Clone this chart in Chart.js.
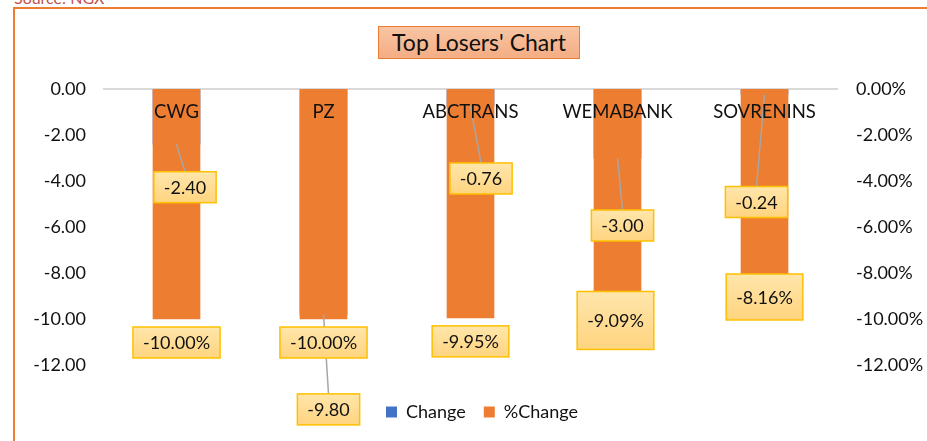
<!DOCTYPE html>
<html>
<head>
<meta charset="utf-8">
<script src="https://cdn.jsdelivr.net/npm/chart.js@4.4.1/dist/chart.umd.min.js"></script>
<style>
  html, body { margin: 0; padding: 0; background: #fff; overflow: hidden; }
  body { width: 927px; height: 441px; position: relative; font-family: Lato, sans-serif; }
  #frame { position: absolute; left: 13px; top: 7px; width: 1000px; height: 1000px; border: 2px solid #ed7d31; }
  #source { position: absolute; left: 14px; top: -12px; font-size: 16px; color: #c0504d; }
  #losersChart { position: absolute; left: 0; top: 0; }
  #title {
    position: absolute; left: 378px; top: 26px; width: 202px; height: 33px;
    box-sizing: border-box; border: 1px solid #ed7d31;
    background: linear-gradient(#f8c5a4, #f4ad84);
    font-size: 23px; line-height: 31px; text-align: center; color: #111;
  }
</style>
</head>
<body>
<div id="frame"></div>
<div id="source">Source: NGX</div>
<canvas id="losersChart" width="927" height="441"></canvas>
<div id="title">Top Losers' Chart</div>
<script>
const stocks = ["CWG", "PZ", "ABCTRANS", "WEMABANK", "SOVRENINS"];
const change = [-2.40, -9.80, -0.76, -3.00, -0.24];
const pctChange = [-10.00, -10.00, -9.95, -9.09, -8.16];

// where Excel left the data labels (px offset from the bar end)
const changeLabelShift = [[8.5, 43], [5, 95], [10.5, 72], [5, 67.5], [-8, 107.5]];
const pctLabelShift = [[0, 23.5], [0, 23.5], [0, 23.5], [-2, 22.4], [0, 20.3]];
const pctLabelHeight = [31, 31, 31, 58, 46];

Chart.defaults.font.family = "Lato";
Chart.defaults.font.size = 18;
Chart.defaults.color = "#111";

function drawBox(ctx, text, cx, cy, h) {
  const w = ctx.measureText(text).width + 20;
  const g = ctx.createLinearGradient(0, cy - h / 2, 0, cy + h / 2);
  g.addColorStop(0, "#ffe6ab");
  g.addColorStop(1, "#ffd47f");
  ctx.fillStyle = g;
  ctx.fillRect(cx - w / 2, cy - h / 2, w, h);
  ctx.strokeStyle = "#ffc000";
  ctx.lineWidth = 1.5;
  ctx.strokeRect(cx - w / 2, cy - h / 2, w, h);
  ctx.fillStyle = "#111";
  ctx.fillText(text, cx, cy + 1);
}

const labelPlugin = {
  id: "valueLabels",
  afterDatasetsDraw(chart) {
    const ctx = chart.ctx;
    const x = chart.scales.x;
    const yL = chart.scales.y;
    const yR = chart.scales.y2;
    ctx.save();
    ctx.font = "18px Lato";
    ctx.textAlign = "center";
    ctx.textBaseline = "middle";

    // leader lines
    ctx.strokeStyle = "#a6a6a6";
    ctx.lineWidth = 1.5;
    change.forEach((v, i) => {
      const bx = x.getPixelForValue(i);
      const by = yL.getPixelForValue(v);
      const [dx, dy] = changeLabelShift[i];
      ctx.beginPath();
      ctx.moveTo(bx, by);
      ctx.lineTo(bx + dx, by + dy - 15.5);
      ctx.stroke();
    });

    // category names just under the zero line
    ctx.fillStyle = "#111";
    ctx.font = "18.5px Lato";
    stocks.forEach((s, i) => {
      ctx.fillText(s, x.getPixelForValue(i), chart.chartArea.top + 23);
    });
    ctx.font = "18px Lato";

    pctChange.forEach((v, i) => {
      const [dx, dy] = pctLabelShift[i];
      drawBox(ctx, v.toFixed(2) + "%", x.getPixelForValue(i) + dx, yR.getPixelForValue(v) + dy, pctLabelHeight[i]);
    });

    change.forEach((v, i) => {
      const [dx, dy] = changeLabelShift[i];
      drawBox(ctx, v.toFixed(2), x.getPixelForValue(i) + dx, yL.getPixelForValue(v) + dy, 31);
    });
    ctx.restore();
  },
};

const chart = new Chart(document.getElementById("losersChart"), {
  type: "bar",
  data: {
    labels: stocks,
    datasets: [
      {
        label: "Change",
        data: change,
        backgroundColor: "#4472c4",
        yAxisID: "y",
        order: 2,
        grouped: false,
        barThickness: 47,
      },
      {
        label: "%Change",
        data: pctChange,
        backgroundColor: "#ed7d31",
        yAxisID: "y2",
        order: 1,
        grouped: false,
        barThickness: 47,
      },
    ],
  },
  options: {
    responsive: false,
    animation: false,
    devicePixelRatio: 1,
    layout: { padding: { top: 89, left: 20, right: -17, bottom: 10 } },
    plugins: {
      tooltip: { enabled: false },
      legend: {
        position: "bottom",
        labels: {
          boxWidth: 11,
          boxHeight: 11,
          padding: 18,
          font: { size: 18 },
          color: "#111",
          sort: (a, b) => a.datasetIndex - b.datasetIndex,
        },
      },
    },
    scales: {
      x: {
        grid: { display: false },
        border: { display: false },
        ticks: { display: false },
        afterFit(s) { s.height = 20; },
      },
      y: {
        position: "left",
        min: -12,
        max: 0,
        ticks: { stepSize: 2, padding: 17, callback: (v) => v.toFixed(2) },
        grid: {
          drawTicks: false,
          lineWidth: 2,
          color: (c) => (c.tick && c.tick.value === 0 ? "#d9d9d9" : "rgba(0,0,0,0)"),
        },
        border: { display: false },
        afterFit(s) { s.width = 83; },
      },
      y2: {
        position: "right",
        min: -12,
        max: 0,
        ticks: { stepSize: 2, padding: 18, callback: (v) => v.toFixed(2) + "%" },
        grid: { display: false, drawTicks: false },
        border: { display: false },
        afterFit(s) { s.width = 106; },
      },
    },
  },
  plugins: [labelPlugin],
});
</script>
</body>
</html>
